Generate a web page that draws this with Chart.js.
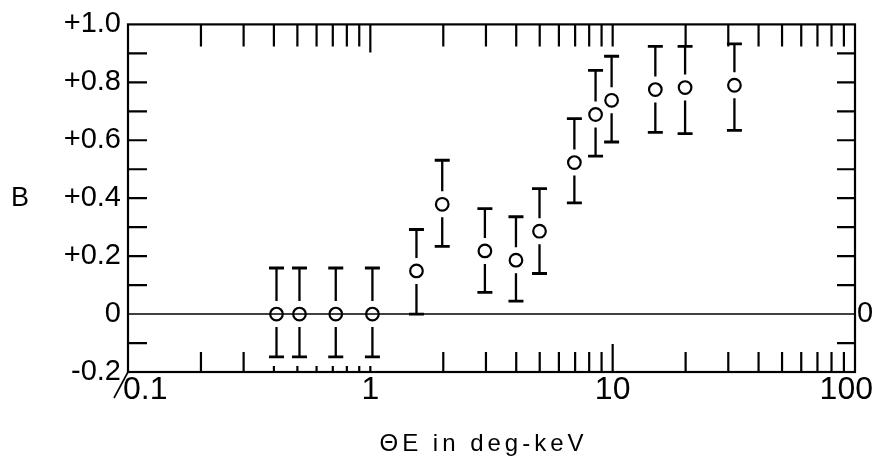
<!DOCTYPE html>
<html>
<head>
<meta charset="utf-8">
<script src="https://cdn.jsdelivr.net/npm/chart.js@4"></script>
<style>
  html, body { margin: 0; padding: 0; background: #fff; }
  #grafico { display: block; }
</style>
</head>
<body>
<canvas id="grafico" width="873" height="457"></canvas>
<script>
// datos
const thetaE = [0.41, 0.51, 0.72, 1.02, 1.55, 1.98, 2.97, 3.99, 4.99, 6.95, 8.5, 9.9, 15.0, 19.9, 31.8];
const valorB = [0, 0, 0, 0, 0.149, 0.379, 0.218, 0.186, 0.286, 0.523, 0.689, 0.738, 0.775, 0.782, 0.790];
const errAlto = [0.159, 0.159, 0.159, 0.159, 0.292, 0.531, 0.364, 0.336, 0.433, 0.675, 0.841, 0.890, 0.924, 0.924, 0.933];
const errBajo = [-0.148, -0.148, -0.148, -0.148, 0, 0.234, 0.075, 0.045, 0.140, 0.384, 0.545, 0.594, 0.627, 0.623, 0.634];

const xTickVals = [0.2, 0.3, 0.4, 0.5, 0.6, 0.7, 0.8, 0.9, 1, 2, 3, 4, 5, 6, 7, 8, 9, 10, 20, 30, 40, 50, 60, 70, 80, 90];
const xLabelVals = [0.1, 1, 10, 100];
const xLabelText = ['0.1', '1', '10', '100'];
const yMin = -0.2;
const yMax = 1.0;

const tituloX = 'ΘE in deg-keV';
const tituloY = 'B';

const negro = '#000';

// marco, ticks hacia adentro, linea de cero y barras de error
const dibujoPlugin = {
  id: 'dibujo',
  beforeDatasetsDraw(chart) {
    const ctx = chart.ctx;
    const a = chart.chartArea;
    const sx = chart.scales.x;
    const sy = chart.scales.y;
    ctx.save();
    ctx.strokeStyle = negro;
    ctx.lineCap = 'butt';

    // marco
    ctx.lineWidth = 2.2;
    ctx.strokeRect(a.left, a.top, a.right - a.left, a.bottom - a.top);

    // ticks eje x (arriba y abajo)
    xTickVals.forEach(v => {
      const px = sx.getPixelForValue(v);
      let largoArriba = v === 1 ? 28 : 22;
      let largoAbajo = 20;
      if (v >= 0.4 && v <= 1) largoAbajo = 6;
      if (v === 10) largoAbajo = 28;
      ctx.beginPath();
      ctx.moveTo(px, a.top);
      ctx.lineTo(px, a.top + largoArriba);
      ctx.moveTo(px, a.bottom);
      ctx.lineTo(px, a.bottom - largoAbajo);
      ctx.stroke();
    });

    // ticks eje y (izquierda y derecha)
    sy.ticks.forEach(t => {
      const r = Math.round(t.value * 10);
      if (r === -2 || r === 10 || r === 0) return;
      const py = sy.getPixelForValue(t.value);
      ctx.beginPath();
      ctx.moveTo(a.left, py);
      ctx.lineTo(a.left + 19, py);
      ctx.moveTo(a.right, py);
      ctx.lineTo(a.right - 18, py);
      ctx.stroke();
    });

    // linea de B = 0
    ctx.lineWidth = 1.6;
    const y0 = sy.getPixelForValue(0);
    ctx.beginPath();
    ctx.moveTo(a.left, y0);
    ctx.lineTo(a.right, y0);
    ctx.stroke();

    // barras de error con hueco alrededor del circulo
    const hueco = 13;
    const medioCap = 7.5;
    thetaE.forEach((xv, i) => {
      const px = sx.getPixelForValue(xv);
      const pc = sy.getPixelForValue(valorB[i]);
      const ph = sy.getPixelForValue(errAlto[i]);
      const pl = sy.getPixelForValue(errBajo[i]);
      ctx.lineWidth = 2.3;
      ctx.beginPath();
      if (pc - hueco > ph) {
        ctx.moveTo(px, ph);
        ctx.lineTo(px, pc - hueco);
      }
      if (pc + hueco < pl) {
        ctx.moveTo(px, pc + hueco);
        ctx.lineTo(px, pl);
      }
      ctx.stroke();
      ctx.lineWidth = 2.8;
      ctx.beginPath();
      ctx.moveTo(px - medioCap, ph);
      ctx.lineTo(px + medioCap, ph);
      ctx.moveTo(px - medioCap, pl);
      ctx.lineTo(px + medioCap, pl);
      ctx.stroke();
    });

    // barra oblicua en la esquina
    ctx.lineWidth = 1.6;
    ctx.beginPath();
    ctx.moveTo(a.left, a.bottom);
    ctx.lineTo(a.left - 14, a.bottom + 26);
    ctx.stroke();
    ctx.restore();
  },
  afterDraw(chart) {
    const ctx = chart.ctx;
    const a = chart.chartArea;
    const sx = chart.scales.x;
    const sy = chart.scales.y;
    ctx.save();
    ctx.fillStyle = negro;

    // etiquetas del eje x
    ctx.font = '32px "Liberation Sans", Arial, sans-serif';
    ctx.textBaseline = 'alphabetic';
    xLabelVals.forEach((v, i) => {
      const px = sx.getPixelForValue(v);
      if (i === 0) {
        ctx.textAlign = 'left';
        ctx.fillText(xLabelText[i], px - 5, a.bottom + 27);
      } else if (i === xLabelVals.length - 1) {
        ctx.textAlign = 'right';
        ctx.fillText(xLabelText[i], px + 18, a.bottom + 27);
      } else {
        ctx.textAlign = 'center';
        ctx.fillText(xLabelText[i], px, a.bottom + 27);
      }
    });

    // titulo eje x
    ctx.font = '24px "Liberation Sans", Arial, sans-serif';
    ctx.letterSpacing = '4px';
    ctx.textAlign = 'center';
    ctx.fillText(tituloX, (a.left + a.right) / 2 - 8, 451);
    ctx.letterSpacing = '0px';

    // titulo eje y
    ctx.font = '27px "Liberation Sans", Arial, sans-serif';
    ctx.textBaseline = 'middle';
    ctx.textAlign = 'center';
    ctx.fillText(tituloY, 20, sy.getPixelForValue(0.4));
    ctx.restore();
  }
};

const etiquetaY = v => {
  const r = Math.round(v * 10);
  if (r % 2 !== 0) return '';
  if (r === 0) return '0';
  return (r > 0 ? '+' : '') + (r / 10).toFixed(1);
};

const fuenteTicks = { family: '"Liberation Sans", Arial, sans-serif', size: 29 };

const grafico = new Chart(document.getElementById('grafico'), {
  type: 'scatter',
  data: {
    datasets: [
      {
        label: 'B',
        data: thetaE.map((x, i) => ({ x: x, y: valorB[i] })),
        pointStyle: 'circle',
        pointRadius: 6.3,
        pointBorderWidth: 2.2,
        pointBackgroundColor: 'rgba(0,0,0,0)',
        pointBorderColor: negro,
        showLine: false,
      }
    ],
  },
  options: {
    responsive: false,
    animation: false,
    devicePixelRatio: 1,
    layout: { padding: { top: 24, left: 0, right: 0, bottom: 0 } },
    plugins: {
      legend: { display: false },
      tooltip: { enabled: false },
    },
    scales: {
      x: {
        type: 'logarithmic',
        position: 'bottom',
        min: 0.1,
        max: 100,
        grid: { display: false },
        border: { display: false },
        ticks: { display: false },
        afterFit(s) { s.height = 85; s.paddingLeft = 0; s.paddingRight = 0; },
      },
      y: {
        type: 'linear',
        position: 'left',
        min: yMin,
        max: yMax,
        grid: { display: false, drawTicks: false },
        border: { display: false },
        ticks: {
          stepSize: 0.1,
          autoSkip: false,
          callback: etiquetaY,
          color: negro,
          font: fuenteTicks,
          padding: 7,
        },
        afterFit(s) { s.width = 128; },
      },
      y2: {
        type: 'linear',
        position: 'right',
        min: yMin,
        max: yMax,
        grid: { display: false, drawTicks: false },
        border: { display: false },
        ticks: {
          stepSize: 0.2,
          autoSkip: false,
          callback: v => (Math.abs(v) < 1e-9 ? '0' : ''),
          color: negro,
          font: fuenteTicks,
          padding: 2,
        },
        afterFit(s) { s.width = 18; },
      },
    },
  },
  plugins: [dibujoPlugin],
});
</script>
</body>
</html>
